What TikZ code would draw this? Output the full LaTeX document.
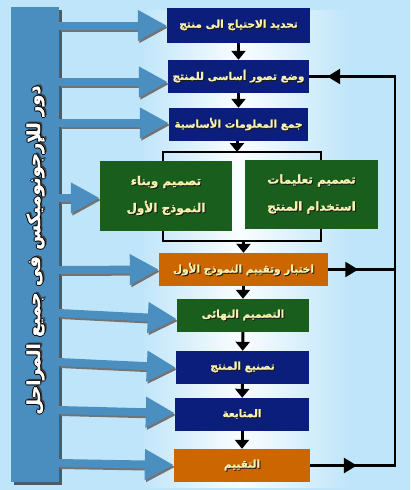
\documentclass[tikz,border=0pt]{standalone}
\usepackage{fontspec}
\newfontfamily\arabicfont[Script=Arabic, BoldFeatures={FakeBold=1.2}]{DejaVu Sans}
\TeXXeTstate=1
\usetikzlibrary{arrows.meta,shadows,decorations.markings}
\definecolor{bg}{HTML}{BFE5FA}
\definecolor{navybox}{HTML}{0B1E7B}
\definecolor{greenbox}{HTML}{1A5E1E}
\definecolor{orangebox}{HTML}{CC6600}
\definecolor{cream}{HTML}{F7F2B0}
\definecolor{txtshadow}{HTML}{1A1A1A}
\definecolor{arrblue}{HTML}{4A8FC0}
\definecolor{barblue}{HTML}{4A8EC0}
\newcommand\arR[1]{\beginR#1\endR}
\newcommand\shtxt[1]{\leavevmode\rlap{\kern1pt\raisebox{-1pt}{\color{txtshadow}\arR{#1}}}{\color{cream}\arR{#1}}}
\newcommand\outl[1]{\leavevmode
 \rlap{\kern2pt\raisebox{-2pt}{\color{black!75}\arR{#1}}}%
 \rlap{\kern-1pt{\color{black}\arR{#1}}}%
 \rlap{\kern1pt{\color{black}\arR{#1}}}%
 \rlap{\raisebox{1pt}{\color{black}\arR{#1}}}%
 \rlap{\raisebox{-1pt}{\color{black}\arR{#1}}}%
 {\color{white}\arR{#1}}}
\tikzset{
 box/.style={rectangle, inner sep=0pt, align=center,
   font=\arabicfont\bfseries\fontsize{10.5}{13}\selectfont},
 bigbox/.style={box, font=\arabicfont\bfseries\fontsize{12}{27}\selectfont},
 blk/.style={line width=3pt, -{Triangle[length=9pt,width=14pt]}},
 fb/.style={line width=2.5pt},
 midarr/.style={postaction={decorate}, decoration={markings,
   mark=at position #1 with {\arrow{Triangle[length=13pt,width=15pt]}}}},
 bluearr/.style={draw=arrblue, line width=8pt, -{Triangle[length=29pt,width=29pt]},
   preaction={draw=black!55, line width=8pt, -{Triangle[length=29pt,width=29pt]},
     transform canvas={xshift=1.5pt,yshift=-2pt}}},
}
\begin{document}
\begin{tikzpicture}[x=1pt,y=-1pt]
\useasboundingbox (0,0) rectangle (410,490);
\fill[bg] (0,0) rectangle (410,490);
\shade[left color=bg, right color=white!92!bg] (140,10) rectangle (240,487);
\shade[left color=white!92!bg, right color=bg] (240,10) rectangle (350,487);

% bracket
\draw[line width=1.6pt] (163,152) rectangle (321,241);
\coordinate (brT) at (237,152);
\coordinate (brB) at (243.5,241);

% boxes
\node[box, fill=navybox, minimum width=143pt, minimum height=35pt] (b1) at (238.5,25.5) {\shtxt{تحديد الاحتياج الى منتج}};
\node[box, fill=navybox, minimum width=141pt, minimum height=33pt] (b2) at (238.5,76.5) {\shtxt{وضع تصور أساسى للمنتج}};
\node[box, fill=navybox, minimum width=139pt, minimum height=33pt] (b3) at (238.5,124.5) {\shtxt{جمع المعلومات الأساسية}};
\node[bigbox, fill=greenbox, minimum width=132pt, minimum height=70pt] (gl) at (166,196) {\shtxt{تصميم وبناء}\\\shtxt{النموذج الأول}};
\node[bigbox, fill=greenbox, minimum width=133pt, minimum height=69pt] (gr) at (311.5,194.5) {\shtxt{تصميم تعليمات}\\\shtxt{استخدام المنتج}};
\node[box, fill=orangebox, minimum width=169pt, minimum height=33pt] (o1) at (243.5,269.5) {\shtxt{اختبار وتقييم النموذج الأول}};
\node[box, fill=greenbox, minimum width=132pt, minimum height=33pt] (fin) at (243,315.5) {\shtxt{التصميم النهائى}};
\node[box, fill=navybox, minimum width=133pt, minimum height=33pt] (man) at (242.5,367.5) {\shtxt{تصنيع المنتج}};
\node[box, fill=navybox, minimum width=134pt, minimum height=33pt] (fol) at (242,414.5) {\shtxt{المتابعة}};
\node[box, fill=orangebox, minimum width=136pt, minimum height=33pt] (ev) at (242,465.5) {\shtxt{التقييم}};

% black flow arrows
\draw[blk] (b1) -- (b2);
\draw[blk] (b2) -- (b3);
\draw[blk] (b3.south -| brT) -- (brT);
\draw[blk] (brB) -- (o1.north -| brB);
\draw[blk] (o1.south -| fin.north) -- (fin.north);
\draw[blk] (fin) -- (man);
\draw[blk] (man) -- (fol);
\draw[blk] (fol) -- (ev);

% feedback
\coordinate (fbB) at (395,465.5);
\coordinate (fbM) at (395,269.5);
\coordinate (fbT) at (395,76.5);
\draw[fb, midarr=0.55] (ev.east) -- (fbB);
\draw[fb, midarr=0.45] (o1.east) -- (fbM);
\draw[fb, line cap=rect] (fbB) -- (fbT);
\draw[fb, midarr=0.79] (fbT) -- (b2.east);

% side bar
\node[rectangle, fill=barblue, minimum width=48pt, minimum height=475pt, inner sep=0pt,
  drop shadow={shadow xshift=3pt, shadow yshift=-3pt, opacity=0.6, fill=black}] (bar) at (35,244.5) {};
\node[rotate=90, font=\arabicfont\bfseries\fontsize{18}{22}\selectfont] (bartext) at (36,250) {\outl{دور للإرجونوميكس فى جميع المراحل}};

% blue arrows
\coordinate (s1) at (59,25.5);
\coordinate (s2) at (59,82);
\coordinate (s3) at (59,123);
\coordinate (s4) at (59,198);
\coordinate (s5) at (59,270);
\coordinate (s6) at (59,313);
\coordinate (s7) at (59,362);
\coordinate (s8) at (59,410);
\coordinate (s9) at (59,463);
\draw[bluearr] (s1) -- (b1.west);
\draw[bluearr] (s2) -- ([yshift=-5.5pt]b2.west);
\draw[bluearr] (s3) -- ([yshift=1.5pt]b3.west);
\draw[bluearr] (s4) -- ([yshift=-2pt]gl.west);
\draw[bluearr] (s5) -- (o1.west);
\draw[bluearr] (s6) -- ([yshift=-3.5pt]fin.west);
\draw[bluearr] (s7) -- (man.west);
\draw[bluearr] (s8) -- ([yshift=1.5pt]fol.west);
\draw[bluearr] (s9) -- ([yshift=0.5pt]ev.west);
\end{tikzpicture}
\end{document}
